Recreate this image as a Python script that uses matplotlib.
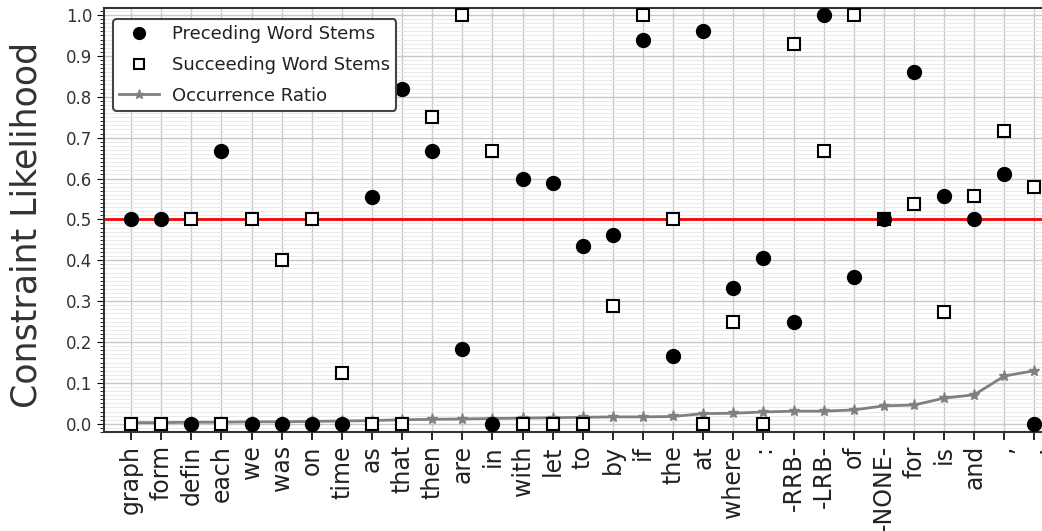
import numpy as np
import matplotlib
matplotlib.use('Agg')
import matplotlib.pyplot as plt
from matplotlib.ticker import MultipleLocator

words = ['graph', 'form', 'defin', 'each', 'we', 'was', 'on', 'time', 'as', 'that',
         'then', 'are', 'in', 'with', 'let', 'to', 'by', 'if', 'the', 'at',
         'where', ':', '-RRB-', '-LRB-', 'of', '-NONE-', 'for', 'is', 'and', ',', '.']

preceding = [0.5, 0.5, 0.0, 0.667, 0.0, 0.0, 0.0, 0.0, 0.556, 0.818,
             0.667, 0.182, 0.0, 0.6, 0.588, 0.436, 0.462, 0.938, 0.167, 0.962,
             0.333, 0.405, 0.25, 1.0, 0.36, 0.5, 0.861, 0.558, 0.5, 0.61, 0.0]

succeeding = [0.0, 0.0, 0.5, 0.0, 0.5, 0.4, 0.5, 0.125, 0.0, 0.0,
              0.75, 1.0, 0.667, 0.0, 0.0, 0.0, 0.287, 1.0, 0.5, 0.0,
              0.25, 0.0, 0.929, 0.667, 1.0, 0.5, 0.538, 0.273, 0.557, 0.715, 0.58]

occurrence = [0.003, 0.003, 0.004, 0.004, 0.005, 0.005, 0.006, 0.007, 0.008, 0.010,
              0.011, 0.012, 0.013, 0.014, 0.015, 0.016, 0.017, 0.017, 0.018, 0.025,
              0.026, 0.029, 0.031, 0.031, 0.034, 0.044, 0.046, 0.063, 0.071, 0.117, 0.130]

x = np.arange(len(words))

fig = plt.figure(figsize=(10.42, 5.31), dpi=100)
ax = fig.add_axes([0.0998, 0.1864, 0.919, 0.7985])

# grid
ax.yaxis.set_major_locator(MultipleLocator(0.1))
ax.yaxis.set_minor_locator(MultipleLocator(0.01))
ax.set_xticks(x)
ax.grid(True, which='major', color='#c8c8c8', linewidth=1.0)
ax.grid(True, which='minor', axis='y', color='#e6e6e6', linewidth=0.6)
ax.set_axisbelow(True)

ax.axhline(0.5, color='red', linewidth=2, zorder=2)

ax.plot(x, occurrence, color='gray', linewidth=2, marker='*', markersize=8,
        label='Occurrence Ratio', zorder=3)
ax.plot(x, succeeding, linestyle='none', marker='s', markersize=9,
        markerfacecolor='white', markeredgecolor='black', markeredgewidth=1.5,
        label='Succeeding Word Stems', zorder=4)
ax.plot(x, preceding, linestyle='none', marker='o', markersize=10,
        color='black', label='Preceding Word Stems', zorder=5)

ax.set_xlim(-0.9, 30.9)
ax.set_ylim(-0.02, 1.017)
ax.set_xticklabels(words, rotation=90, fontsize=17, color='#222222')
ax.tick_params(axis='y', labelsize=12, labelcolor='#333333', direction='out', length=5)
ax.tick_params(axis='y', which='minor', length=3)
ax.tick_params(axis='x', direction='out', length=6, width=1.2)
ax.set_ylabel('Constraint Likelihood', fontsize=25, color='#333333')
ax.yaxis.set_label_coords(-0.063, 0.488)

for s in ax.spines.values():
    s.set_linewidth(1.5)
    s.set_color('#333333')

handles, labels = ax.get_legend_handles_labels()
order = [2, 1, 0]
leg = ax.legend([handles[i] for i in order], [labels[i] for i in order],
                loc='upper left', fontsize=13, frameon=True, fancybox=True,
                edgecolor='#444444', framealpha=1.0, borderpad=0.35,
                handlelength=2.2, handletextpad=0.7, markerscale=0.85,
                labelspacing=0.7, bbox_to_anchor=(0.0, 0.995))
leg.get_frame().set_linewidth(1.5)
for t in leg.get_texts():
    t.set_color('#222222')

fig.savefig('out.png', dpi=100)
